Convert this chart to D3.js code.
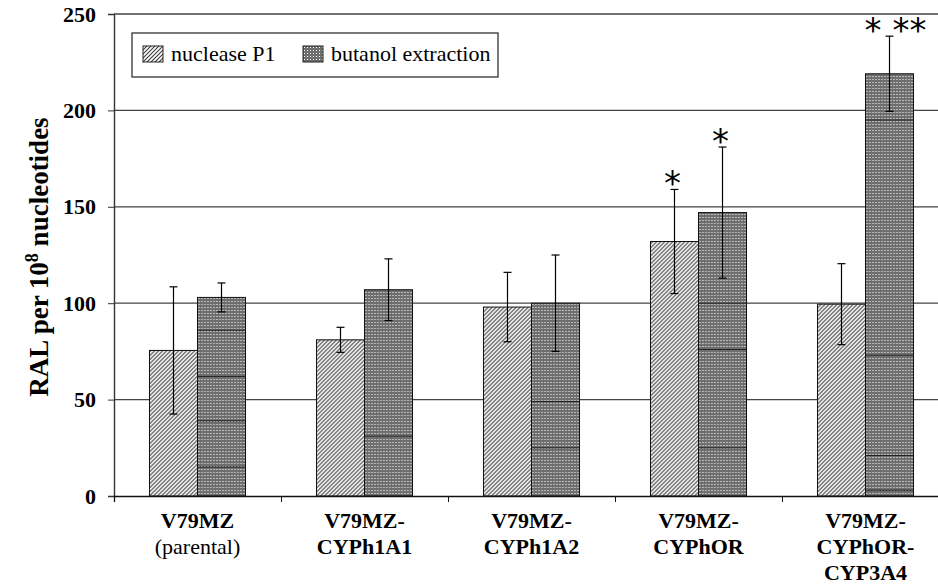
<!DOCTYPE html>
<meta charset="utf-8">
<style>
  body { margin: 0; background: #fff; }
</style>
<body>
<script src="https://d3js.org/d3.v7.min.js"></script>
<script>
// data
var groups = ["g1", "g2", "g3", "g4", "g5"];
var groupLabels = [
  ["V79MZ", "(parental)"],
  ["V79MZ-", "CYPh1A1"],
  ["V79MZ-", "CYPh1A2"],
  ["V79MZ-", "CYPhOR"],
  ["V79MZ-", "CYPhOR-", "CYP3A4"]
];
var seriesNames = ["nuclease P1", "butanol extraction"];
var nucleaseP1 = [75.5, 81, 98, 132, 99.5];
var nucleaseErr = [33, 6.5, 18, 27, 21];
var butanol = [103, 107, 100, 147, 219];
var butanolErr = [7.5, 16, 25, 34, 19.5];
// the inner segment lines visible inside the butanol bars
var butanolSegments = [[15, 39, 62, 86], [31], [25, 49], [25, 76, 100], [3, 21, 73, 195]];
// significance marks: [group index, series index, text]
var marks = [[3, 0, "*"], [3, 1, "*"], [4, 1, "* **"]];
var yTicks = [0, 50, 100, 150, 200, 250];

var W = 938, H = 584;
var margin = {top: 14, right: -11, bottom: 88, left: 114};
var serif = "Liberation Serif";

var svg = d3.select("body").append("svg")
    .attr("width", W)
    .attr("height", H)
    .attr("font-family", serif);

var defs = svg.append("defs");

// diagonal hatching
var hatch = defs.append("pattern")
    .attr("id", "hatch")
    .attr("patternUnits", "userSpaceOnUse")
    .attr("width", 4).attr("height", 4);
hatch.append("rect").attr("width", 4).attr("height", 4).attr("fill", "#fff");
hatch.append("path")
    .attr("d", "M-1,1 L1,-1 M0,4 L4,0 M3,5 L5,3")
    .attr("stroke", "#3a3a3a").attr("stroke-width", 1.1);

// dotted grey
var dots = defs.append("pattern")
    .attr("id", "dots")
    .attr("patternUnits", "userSpaceOnUse")
    .attr("width", 3).attr("height", 3);
dots.append("rect").attr("width", 3).attr("height", 3).attr("fill", "#6e6e6e");
dots.append("rect").attr("x", 1).attr("y", 1).attr("width", 1).attr("height", 1).attr("fill", "#fff");

var fills = ["url(#hatch)", "url(#dots)"];

var x0 = d3.scaleBand()
    .domain(groups)
    .range([margin.left, W - margin.right])
    .paddingInner(0.425)
    .paddingOuter(0.2125);

var x1 = d3.scaleBand()
    .domain([0, 1])
    .range([0, x0.bandwidth()]);

var xEdge = d3.scaleLinear()
    .domain([0, groups.length])
    .range([margin.left, W - margin.right]);

var y = d3.scaleLinear()
    .domain([0, 250])
    .range([H - margin.bottom, margin.top]);

// gridlines
svg.append("g")
  .selectAll("line")
  .data(yTicks.filter(function(d) { return d > 0; }))
  .enter().append("line")
    .attr("x1", margin.left)
    .attr("x2", W - margin.right)
    .attr("y1", function(d) { return y(d); })
    .attr("y2", function(d) { return y(d); })
    .attr("stroke", "#444")
    .attr("stroke-width", 1.3);

// bars
var rows = groups.map(function(g, i) {
  return [
    {g: g, i: i, s: 0, v: nucleaseP1[i], e: nucleaseErr[i]},
    {g: g, i: i, s: 1, v: butanol[i], e: butanolErr[i]}
  ];
});

var grp = svg.append("g").selectAll("g")
    .data(rows)
    .enter().append("g")
    .attr("transform", function(d, i) { return "translate(" + x0(groups[i]) + ",0)"; });

grp.selectAll("rect")
    .data(function(d) { return d; })
    .enter().append("rect")
    .attr("x", function(d) { return x1(d.s); })
    .attr("width", x1.bandwidth())
    .attr("y", function(d) { return y(d.v); })
    .attr("height", function(d) { return y(0) - y(d.v); })
    .attr("fill", function(d) { return fills[d.s]; })
    .attr("stroke", "#111")
    .attr("stroke-width", 1);

// segment lines inside butanol bars
grp.selectAll("line.seg")
    .data(function(d, i) { return butanolSegments[i]; })
    .enter().append("line")
    .attr("class", "seg")
    .attr("x1", x1(1))
    .attr("x2", x1(1) + x1.bandwidth())
    .attr("y1", function(d) { return y(d); })
    .attr("y2", function(d) { return y(d); })
    .attr("stroke", "#222")
    .attr("stroke-width", 1);

// error bars
var eb = grp.selectAll("g.err")
    .data(function(d) { return d; })
    .enter().append("g")
    .attr("class", "err")
    .attr("stroke", "#000")
    .attr("stroke-width", 1.2);

eb.append("line")
    .attr("x1", function(d) { return x1(d.s) + x1.bandwidth() / 2; })
    .attr("x2", function(d) { return x1(d.s) + x1.bandwidth() / 2; })
    .attr("y1", function(d) { return y(d.v + d.e); })
    .attr("y2", function(d) { return y(d.v - d.e); });

[1, -1].forEach(function(sign) {
  eb.append("line")
    .attr("x1", function(d) { return x1(d.s) + x1.bandwidth() / 2 - 4; })
    .attr("x2", function(d) { return x1(d.s) + x1.bandwidth() / 2 + 4; })
    .attr("y1", function(d) { return y(d.v + sign * d.e); })
    .attr("y2", function(d) { return y(d.v + sign * d.e); });
});

// asterisks
svg.append("g").selectAll("text")
    .data(marks)
    .enter().append("text")
    .attr("x", function(d) { return x0(groups[d[0]]) + x1(d[1]) + x1.bandwidth() / 2 + (d[2].length > 1 ? 6 : -2); })
    .attr("y", function(d) {
      var v = d[1] === 0 ? nucleaseP1[d[0]] + nucleaseErr[d[0]] : butanol[d[0]] + butanolErr[d[0]];
      return y(v) + 6;
    })
    .attr("text-anchor", "middle")
    .attr("font-size", 34)
    .attr("font-family", "DejaVu Sans")
    .text(function(d) { return d[2]; });

// y axis
var yAxis = svg.append("g")
    .attr("transform", "translate(" + margin.left + ",0)")
    .call(d3.axisLeft(y).tickValues(yTicks).tickSize(6).tickPadding(12));
yAxis.attr("font-family", serif).attr("font-size", 22).attr("font-weight", "bold");
yAxis.select(".domain").attr("stroke", "#333").attr("stroke-width", 1.4);
yAxis.selectAll(".tick line").attr("stroke", "#333");

// x axis
var xAxis = svg.append("g")
    .attr("transform", "translate(0," + y(0) + ")")
    .call(d3.axisBottom(xEdge).tickValues(d3.range(groups.length + 1)).tickSize(6).tickFormat(""));
xAxis.select(".domain").attr("stroke", "#111").attr("stroke-width", 1.3);
xAxis.selectAll(".tick line").attr("stroke", "#111");

// category labels
var lab = svg.append("g").selectAll("text")
    .data(groupLabels)
    .enter().append("text")
    .attr("text-anchor", "middle")
    .attr("font-family", serif)
    .attr("font-size", 22);

lab.selectAll("tspan")
    .data(function(d) { return d; })
    .enter().append("tspan")
    .attr("x", function(d, j, nodes) {
      var i = groupLabels.indexOf(d3.select(nodes[j].parentNode).datum());
      return x0(groups[i]) + x0.bandwidth() / 2;
    })
    .attr("y", function(d, j) { return 528 + j * 26; })
    .attr("font-weight", function(d) { return d.charAt(0) === "(" ? "normal" : "bold"; })
    .text(function(d) { return d; });

// y axis title
var yt = svg.append("text")
    .attr("transform", "translate(48," + (y(125) + 2) + ") rotate(-90)")
    .attr("text-anchor", "middle")
    .attr("font-family", serif)
    .attr("font-size", 27)
    .attr("font-weight", "bold");
yt.append("tspan").text("RAL per 10");
yt.append("tspan").attr("dy", -10).attr("font-size", 18).text("8");
yt.append("tspan").attr("dy", 10).text(" nucleotides");

// legend
var leg = svg.append("g");
leg.append("rect")
    .attr("x", 132).attr("y", 33)
    .attr("width", 366).attr("height", 44)
    .attr("fill", "#fff")
    .attr("stroke", "#333")
    .attr("stroke-width", 1.3);

var legX = [143, 303];
var items = leg.selectAll("g.item")
    .data(seriesNames)
    .enter().append("g")
    .attr("transform", function(d, i) { return "translate(" + legX[i] + ",46)"; });
items.append("rect")
    .attr("width", 20).attr("height", 16)
    .attr("fill", function(d, i) { return fills[i]; })
    .attr("stroke", "#222");
items.append("text")
    .attr("x", 28).attr("y", 15)
    .attr("font-family", serif)
    .attr("font-size", 22)
    .text(function(d) { return d; });
</script>
</body>
